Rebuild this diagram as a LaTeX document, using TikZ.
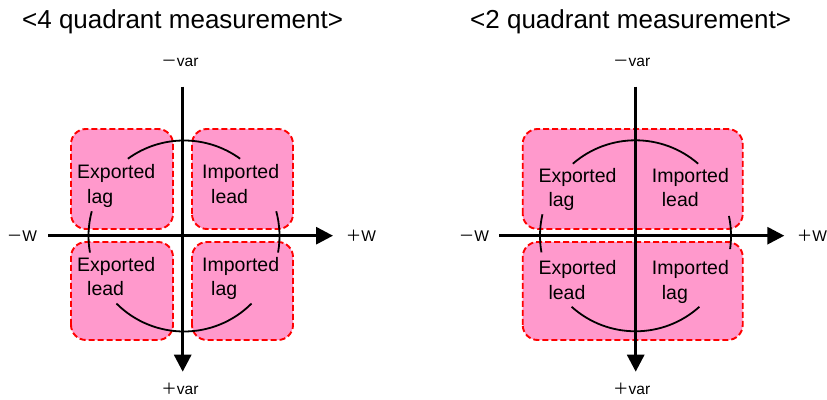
\documentclass[tikz,border=0pt]{standalone}
\usepackage{fontspec}
\setmainfont{Liberation Sans}
\newfontfamily\cjk{Noto Sans CJK JP}
\usetikzlibrary{arrows.meta}
\definecolor{boxpink}{HTML}{FF99CC}
\definecolor{boxred}{HTML}{FF0000}
\begin{document}
\begin{tikzpicture}[x=1pt,y=1pt,
  quad/.style={fill=boxpink,draw=boxred,line width=1.9pt,dash pattern=on 6pt off 3pt,rounded corners=15pt},
  axis/.style={line width=3pt,-{Triangle[length=17pt,width=17pt]}},
  arcst/.style={line width=1.8pt},
  lbl/.style={anchor=base west,inner sep=0pt,font=\fontsize{19.5}{23}\selectfont},
  ttl/.style={anchor=base west,inner sep=0pt,font=\fontsize{26}{30}\selectfont},
  axl/.style={inner sep=0pt,font=\fontsize{15.5}{18}\selectfont}]
\useasboundingbox (0,0) rectangle (827,399);
% titles
\node[ttl] (t1) at (22,370) {<4 quadrant measurement>};
\node[ttl] (t2) at (470,370) {<2 quadrant measurement>};
%% ---------- left diagram ----------
\coordinate (lTLa) at (71,170); \coordinate (lTLb) at (173,270);
\coordinate (lTRa) at (192,170); \coordinate (lTRb) at (293,270);
\coordinate (lBLa) at (71,59);  \coordinate (lBLb) at (173,157);
\coordinate (lBRa) at (192,59); \coordinate (lBRb) at (293,157);
\path[quad] (lTLa) rectangle (lTLb);
\path[quad] (lTRa) rectangle (lTRb);
\path[quad] (lBLa) rectangle (lBLb);
\path[quad] (lBRa) rectangle (lBRb);
\coordinate (lvt) at (182.7,312.3); \coordinate (lvb) at (182.7,27.3);
\coordinate (lhl) at (48.3,163.3);  \coordinate (lhr) at (333,163.3);
\draw[axis] (lvt) -- (lvb);
\draw[axis] (lhl) -- (lhr);
\coordinate (lc) at (184,163);
\draw[arcst] ([shift={(54:95.5)}]lc) arc[start angle=54,end angle=126,radius=95.5];
\draw[arcst] ([shift={(165:95.5)}]lc) arc[start angle=165,end angle=190,radius=95.5];
\draw[arcst] ([shift={(-10:95.5)}]lc) arc[start angle=-10,end angle=15,radius=95.5];
\draw[arcst] ([shift={(225:95.5)}]lc) arc[start angle=225,end angle=315,radius=95.5];
\node[lbl] (l1a) at (77,220) {Exported};
\node[lbl] (l1b) at (87,195.7) {lag};
\node[lbl] (l2a) at (202,220) {Imported};
\node[lbl] (l2b) at (211,195.7) {lead};
\node[lbl] (l3a) at (77,127.3) {Exported};
\node[lbl] (l3b) at (87,103) {lead};
\node[lbl] (l4a) at (202,127.3) {Imported};
\node[lbl] (l4b) at (211,103) {lag};
\node[axl] (lmv) at (180,337) {{\cjk －}var};
\node[axl] (lpv) at (180,10) {{\cjk ＋}var};
\node[axl] (lmw) at (22,163.3) {{\cjk －}W};
\node[axl] (lpw) at (361,163.3) {{\cjk ＋}W};
%% ---------- right diagram ----------
\coordinate (rTa) at (522.7,170); \coordinate (rTb) at (742.7,270);
\coordinate (rBa) at (522.7,59);  \coordinate (rBb) at (742.7,157);
\path[quad] (rTa) rectangle (rTb);
\path[quad] (rBa) rectangle (rBb);
\coordinate (rvt) at (635.7,312.3); \coordinate (rvb) at (635.7,27.3);
\coordinate (rhl) at (499.3,163.3); \coordinate (rhr) at (784.3,163.3);
\draw[axis] (rvt) -- (rvb);
\draw[axis] (rhl) -- (rhr);
\coordinate (rc) at (635.5,163.2);
\draw[arcst] ([shift={(49:95.5)}]rc) arc[start angle=49,end angle=131,radius=95.5];
\draw[arcst] ([shift={(167:95.5)}]rc) arc[start angle=167,end angle=190,radius=95.5];
\draw[arcst] ([shift={(-8:95.5)}]rc) arc[start angle=-8,end angle=12,radius=95.5];
\draw[arcst] ([shift={(228:95.5)}]rc) arc[start angle=228,end angle=312,radius=95.5];
\node[lbl] (r1a) at (538.3,216.3) {Exported};
\node[lbl] (r1b) at (548.3,192.3) {lag};
\node[lbl] (r2a) at (651.7,216.3) {Imported};
\node[lbl] (r2b) at (661.7,192.3) {lead};
\node[lbl] (r3a) at (538.3,124) {Exported};
\node[lbl] (r3b) at (548.3,99.7) {lead};
\node[lbl] (r4a) at (651.7,124) {Imported};
\node[lbl] (r4b) at (661.7,99.7) {lag};
\node[axl] (rmv) at (631.7,337) {{\cjk －}var};
\node[axl] (rpv) at (631.7,10) {{\cjk ＋}var};
\node[axl] (rmw) at (474,163.3) {{\cjk －}W};
\node[axl] (rpw) at (812,163.3) {{\cjk ＋}W};
\end{tikzpicture}
\end{document}
